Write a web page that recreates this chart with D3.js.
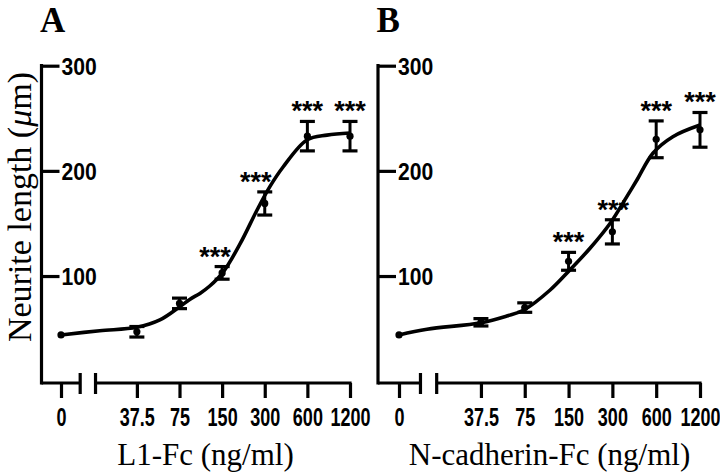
<!DOCTYPE html>
<html>
<head>
<meta charset="utf-8">
<script src="https://cdn.jsdelivr.net/npm/d3@7/dist/d3.min.js"></script>
<style>
  html, body { margin: 0; padding: 0; background: #fff; }
  svg { display: block; }
  .tick text { font-family: "Liberation Sans", Arial, sans-serif; font-weight: bold; }
</style>
</head>
<body>
<svg id="chart" width="720" height="475"></svg>
<script>
// ---- data ----
const doseLabels = ["0", "37.5", "75", "150", "300", "600", "1200"];
// axis slot of each dose: log2(dose / 37.5); the zero dose sits left of the break
const doseSlots = [null, 0, 1, 2, 3, 4, 5];

const l1Mean = [44, 47, 74, 103, 169, 233, 233];
const l1Err  = [0, 5, 5, 6, 11, 14, 14];
const l1Sig  = ["", "", "", "***", "***", "***", "***"];

const ncadMean = [44, 56, 70, 114, 142, 230, 239];
const ncadErr  = [0, 3.5, 4.5, 8.5, 11.5, 17.5, 16.5];
const ncadSig  = ["", "", "", "***", "***", "***", "***"];

// fitted curves: slot position and neurite length
const l1FitSlot  = [-1.78, -0.87, 0, 0.54, 1.01, 1.24, 1.48, 1.71, 2.02, 2.42, 2.82, 3.12, 3.43, 3.99, 4.46, 5];
const l1FitValue = [44, 48, 51.3, 58.2, 70.9, 77.8, 83.5, 90.5, 103.5, 130.5, 162.8, 185, 203.7, 229.4, 234, 236];

const ncadFitSlot  = [-1.87, -1.23, 0, 0.59, 0.98, 1.58, 2.03, 2.49, 2.95, 3.33, 3.56, 3.93, 4.38, 5];
const ncadFitValue = [44, 49.4, 55.6, 62, 67.7, 86.7, 105.8, 126.4, 150.2, 175.5, 191.3, 217, 232.5, 243.6];

const yTicks = [100, 200, 300];

// ---- layout ----
const panels = [
  { letter: "A", title: "L1-Fc (ng/ml)", mean: l1Mean, err: l1Err, sig: l1Sig,
    fitSlot: l1FitSlot, fitValue: l1FitValue,
    axisX: 41.5, x0: 61, x1: 350, zeroSlot: -1.78, breaks: [-1.33, -0.97],
    sigNudge: [0, 0, 0, -7, -9, 0, 0] },
  { letter: "B", title: "N-cadherin-Fc (ng/ml)", mean: ncadMean, err: ncadErr, sig: ncadSig,
    fitSlot: ncadFitSlot, fitValue: ncadFitValue,
    axisX: 378, x0: 399, x1: 700, zeroSlot: -1.87, breaks: [-1.38, -1.01],
    sigNudge: [0, 0, 0, 0, 1, 0, 0] }
];

const svg = d3.select("#chart");
const y = d3.scaleLinear().domain([0, 300]).range([381.2, 65.7]);
const baseY = 383;
const sansB = '"Liberation Sans", Arial, sans-serif';
const serif = '"Liberation Serif", "DejaVu Serif", serif';
const xTickSqueeze = 0.72, yTickSqueeze = 0.88;

panels.forEach(p => {
  const slots = doseSlots.map(s => s === null ? p.zeroSlot : s);
  const x = d3.scaleLinear().domain([p.zeroSlot, 5]).range([p.x0, p.x1]);
  const g = svg.append("g");

  // y axis
  const yAx = g.append("g")
    .attr("transform", `translate(${p.axisX},0)`)
    .call(d3.axisRight(y).tickValues(yTicks).tickSize(18).tickSizeOuter(0).tickPadding(2));
  yAx.select(".domain").remove();
  yAx.selectAll(".tick line").attr("stroke", "#000").attr("stroke-width", 3.2);
  yAx.selectAll(".tick text").attr("font-size", 24).attr("fill", "#000").attr("dy", "0.36em")
    .attr("x", 20 / yTickSqueeze).attr("transform", `scale(${yTickSqueeze},1)`);
  g.append("line")
    .attr("x1", p.axisX).attr("x2", p.axisX)
    .attr("y1", y(300) - 1.6).attr("y2", baseY + 1.6)
    .attr("stroke", "#000").attr("stroke-width", 3.2);

  // x axis
  const xAx = g.append("g")
    .attr("transform", `translate(0,${baseY})`)
    .call(d3.axisBottom(x).tickValues(slots).tickFormat((d, i) => doseLabels[i]).tickSize(15).tickSizeOuter(0));
  xAx.select(".domain").remove();
  xAx.selectAll(".tick line").attr("stroke", "#000").attr("stroke-width", 3.2);
  xAx.selectAll(".tick text").attr("font-size", 25).attr("fill", "#000")
    .attr("y", 43).attr("dy", 0).attr("transform", `scale(${xTickSqueeze},1)`);

  const bl = x(p.breaks[0]), br = x(p.breaks[1]);
  g.append("line").attr("x1", p.axisX).attr("x2", bl).attr("y1", baseY).attr("y2", baseY)
    .attr("stroke", "#000").attr("stroke-width", 3.2);
  g.append("line").attr("x1", br).attr("x2", x(5) + 1.6).attr("y1", baseY).attr("y2", baseY)
    .attr("stroke", "#000").attr("stroke-width", 3.2);
  [bl, br].forEach(bx => {
    g.append("line").attr("x1", bx).attr("x2", bx).attr("y1", baseY - 10).attr("y2", baseY + 11)
      .attr("stroke", "#000").attr("stroke-width", 3.2);
  });

  // fitted curve
  const line = d3.line().x(d => x(d[0])).y(d => y(d[1])).curve(d3.curveCatmullRom.alpha(0.5));
  g.append("path")
    .datum(p.fitSlot.map((s, i) => [s, p.fitValue[i]]))
    .attr("d", line).attr("fill", "none").attr("stroke", "#000").attr("stroke-width", 3.6);

  // error bars and points
  const pts = slots.map((s, i) => ({ s, m: p.mean[i], e: p.err[i], sig: p.sig[i], n: p.sigNudge[i] }));
  const cap = 7.5;
  pts.filter(d => d.e > 0).forEach(d => {
    const cx = x(d.s);
    g.append("line").attr("x1", cx).attr("x2", cx).attr("y1", y(d.m - d.e)).attr("y2", y(d.m + d.e))
      .attr("stroke", "#000").attr("stroke-width", 3);
    [d.m - d.e, d.m + d.e].forEach(v => {
      g.append("line").attr("x1", cx - cap).attr("x2", cx + cap).attr("y1", y(v)).attr("y2", y(v))
        .attr("stroke", "#000").attr("stroke-width", 3.2);
    });
  });
  g.selectAll("circle.pt").data(pts).join("circle")
    .attr("cx", d => x(d.s)).attr("cy", d => y(d.m)).attr("r", 3.6).attr("fill", "#000");

  // significance stars
  g.selectAll("text.sig").data(pts.filter(d => d.sig)).join("text")
    .attr("x", d => x(d.s) + d.n).attr("y", d => y(d.m + d.e) - 16 + 15)
    .attr("text-anchor", "middle")
    .attr("font-family", sansB).attr("font-weight", "bold").attr("font-size", 27)
    .text(d => d.sig);

  // panel letter
  g.append("text").attr("x", p.axisX - 1.5).attr("y", 32)
    .attr("font-family", serif).attr("font-weight", "bold").attr("font-size", 35)
    .text(p.letter);

  // x title
  g.append("text").attr("x", (p.x0 + p.x1) / 2).attr("y", 465)
    .attr("text-anchor", "middle").attr("font-family", serif).attr("font-size", 31)
    .text(p.title);
});

// y title
const yt = svg.append("text")
  .attr("transform", "translate(31,207) rotate(-90)")
  .attr("text-anchor", "middle").attr("font-family", serif).attr("font-size", 34);
yt.append("tspan").text("Neurite length (");
yt.append("tspan").attr("font-style", "italic").text("\u03bc");
yt.append("tspan").text("m)");
</script>
</body>
</html>
